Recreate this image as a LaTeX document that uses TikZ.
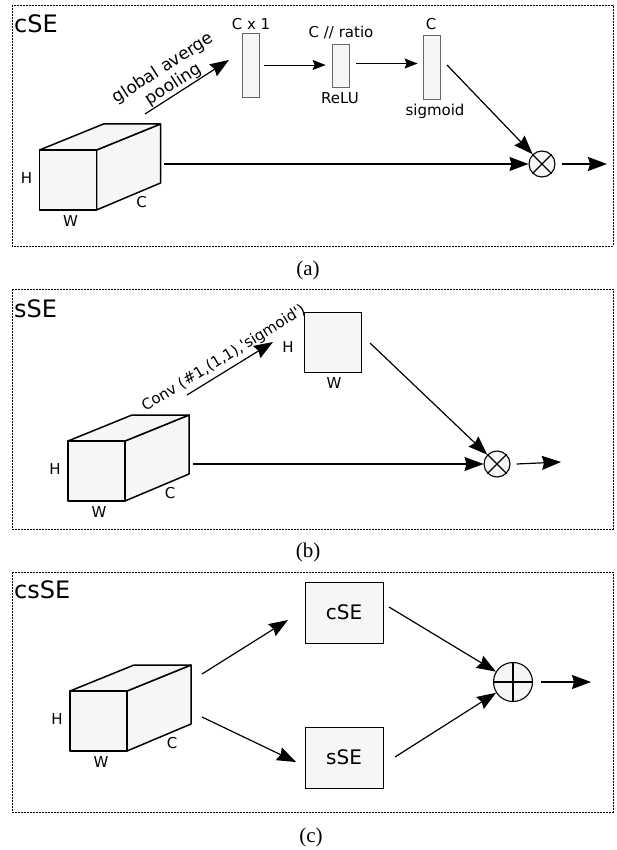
\documentclass[tikz,border=0pt]{standalone}
\usepackage{fontspec}
\setmainfont{DejaVu Sans}[Ligatures=TeXOff]
\newfontfamily\capfont{Liberation Serif}
\usetikzlibrary{arrows.meta}
\definecolor{boxfill}{HTML}{F6F6F6}
\tikzset{
  frame/.style={draw, line width=0.8pt, dash pattern=on 2pt off 1pt},
  title/.style={font=\fontsize{24}{28}\selectfont, anchor=base west, inner sep=0pt},
  bigtxt/.style={font=\fontsize{20}{24}\selectfont, inner sep=0pt},
  lbl/.style={font=\fontsize{15}{18}\selectfont, inner sep=0pt},
  rotlbl/.style={font=\fontsize{17}{19}\selectfont},
  bar/.style={draw=black!60, fill=boxfill, line width=0.8pt, minimum width=17pt, inner sep=0pt},
  sq/.style={draw, fill=boxfill, line width=1pt, inner sep=0pt},
  arr/.style={-{Stealth[length=19pt,width=14pt,inset=2pt]}, line width=1.2pt},
  sarr/.style={-{Stealth[length=13pt,width=10pt,inset=2pt]}, line width=0.9pt},
  cubeline/.style={draw, fill=boxfill, line width=1.5pt, line join=round},
  opnode/.style={circle, draw, fill=boxfill, line width=1.1pt, inner sep=0pt},
  capt/.style={font=\capfont\fontsize{21}{24}\selectfont, inner sep=0pt},
  cube/.pic={
    \draw[cubeline] (57,0) -- (121,-26) -- (121,33) -- (57,60) -- cycle;
    \draw[cubeline] (0,0) -- (64,-26) -- (121,-26) -- (57,0) -- cycle;
    \draw[cubeline] (0,0) rectangle (57,60);
    \node[lbl] (-H) at (-13,28) {H};
    \node[lbl] (-W) at (31,71) {W};
    \node[lbl] (-C) at (102,52) {C};
  }
}
\begin{document}
\begin{tikzpicture}[x=1pt,y=-1pt]
\path[use as bounding box] (0,0) rectangle (616,850);

% ---------------- (a) cSE ----------------
\draw[frame] (12,5) rectangle (613,246);
\node[title] (tA) at (14,33) {cSE};
\pic (cubeA) at (39.5,150) {cube};

\coordinate (pA1) at (145,114);
\coordinate (pA2) at (229,60);
\draw[arr] (pA1) -- node[sloped, rotlbl, pos=0.40, anchor=south, inner sep=0.5pt, align=center] (gap) {global averge\\pooling} (pA2);

\node[bar, minimum height=64pt] (b1) at (250.5,65) {};
\node[lbl] (b1t) at (251,24) {C x 1};
\node[bar, minimum height=43pt] (b2) at (340.5,65.5) {};
\node[lbl] (b2t) at (341,33) {C // ratio};
\node[lbl] (b2b) at (340,98) {ReLU};
\node[bar, minimum height=64pt] (b3) at (431.5,67) {};
\node[lbl] (b3t) at (431,24) {C};
\node[lbl] (b3b) at (435,111) {sigmoid};

\node[opnode, minimum size=26pt] (otA) at (542,164) {};
\draw[line width=1.1pt] (otA.north west) -- (otA.south east) (otA.north east) -- (otA.south west);

\draw[sarr] ([xshift=5pt]b1.east) -- ([xshift=-6pt]b1.east -| b2.west);
\draw[sarr] ([xshift=7pt,yshift=2pt]b2.east) -- ([xshift=-5pt,yshift=2pt]b2.east -| b3.west);
\coordinate (sA) at (447,65);
\draw[arr] (sA) -- (otA);
\coordinate (cA) at (164,164);
\draw[arr] (cA) -- (otA);
\coordinate (oA) at (607,164);
\draw[arr] ([xshift=6pt]otA.east) -- (oA);

\node[capt] (capA) at (308,270) {(a)};

% ---------------- (b) sSE ----------------
\draw[frame] (12,289) rectangle (613,529);
\node[title] (tB) at (14,317) {sSE};
\pic (cubeB) at (68,441) {cube};

\coordinate (pB1) at (187,395);
\coordinate (pB2) at (273,342);
\draw[arr] (pB1) -- node[sloped, lbl, pos=0.5, anchor=south, inner sep=4pt] (conv) {Conv (\#1,(1,1),'sigmoid')} (pB2);

\node[sq, minimum width=57pt, minimum height=60pt] (sqB) at (332.5,342) {};
\node[lbl] (sqH) at (288,347) {H};
\node[lbl] (sqW) at (334,383) {W};

\node[opnode, minimum size=26pt] (otB) at (497,464) {};
\draw[line width=1.1pt] (otB.north west) -- (otB.south east) (otB.north east) -- (otB.south west);

\coordinate (sB) at (370,343);
\draw[arr] (sB) -- (otB);
\coordinate (cB) at (193,464);
\draw[arr] (cB) -- (otB);
\coordinate (oB) at (561,462);
\draw[arr] ([xshift=6pt]otB.east) -- (oB);

\node[capt] (capB) at (308,552) {(b)};

% ---------------- (c) csSE ----------------
\draw[frame] (12,572) rectangle (613,812);
\node[title] (tC) at (14,598) {csSE};
\pic (cubeC) at (70,691) {cube};

\node[sq, minimum width=78pt, minimum height=61pt] (cse) at (344,612.5) {};
\node[bigtxt] (cseT) at (344,612.5) {cSE};
\node[sq, minimum width=78pt, minimum height=61pt] (sse) at (344,757.5) {};
\node[bigtxt] (sseT) at (344,757.5) {sSE};

\node[opnode, minimum size=39pt] (op) at (513,682) {};
\draw[line width=1.1pt] (op.north) -- (op.south) (op.west) -- (op.east);

\coordinate (c1) at (202,674);
\coordinate (c1e) at (288,620);
\draw[arr] (c1) -- (c1e);
\coordinate (c2) at (202,717);
\coordinate (c2e) at (296,762);
\draw[arr] (c2) -- (c2e);
\coordinate (s1) at (389,607);
\draw[arr] (s1) -- (op);
\coordinate (s2) at (395,757);
\draw[arr] (s2) -- (op);
\coordinate (oC) at (591,682);
\draw[arr] ([xshift=8pt]op.east) -- (oC);

\node[capt] (capC) at (311,837) {(c)};
\end{tikzpicture}
\end{document}
